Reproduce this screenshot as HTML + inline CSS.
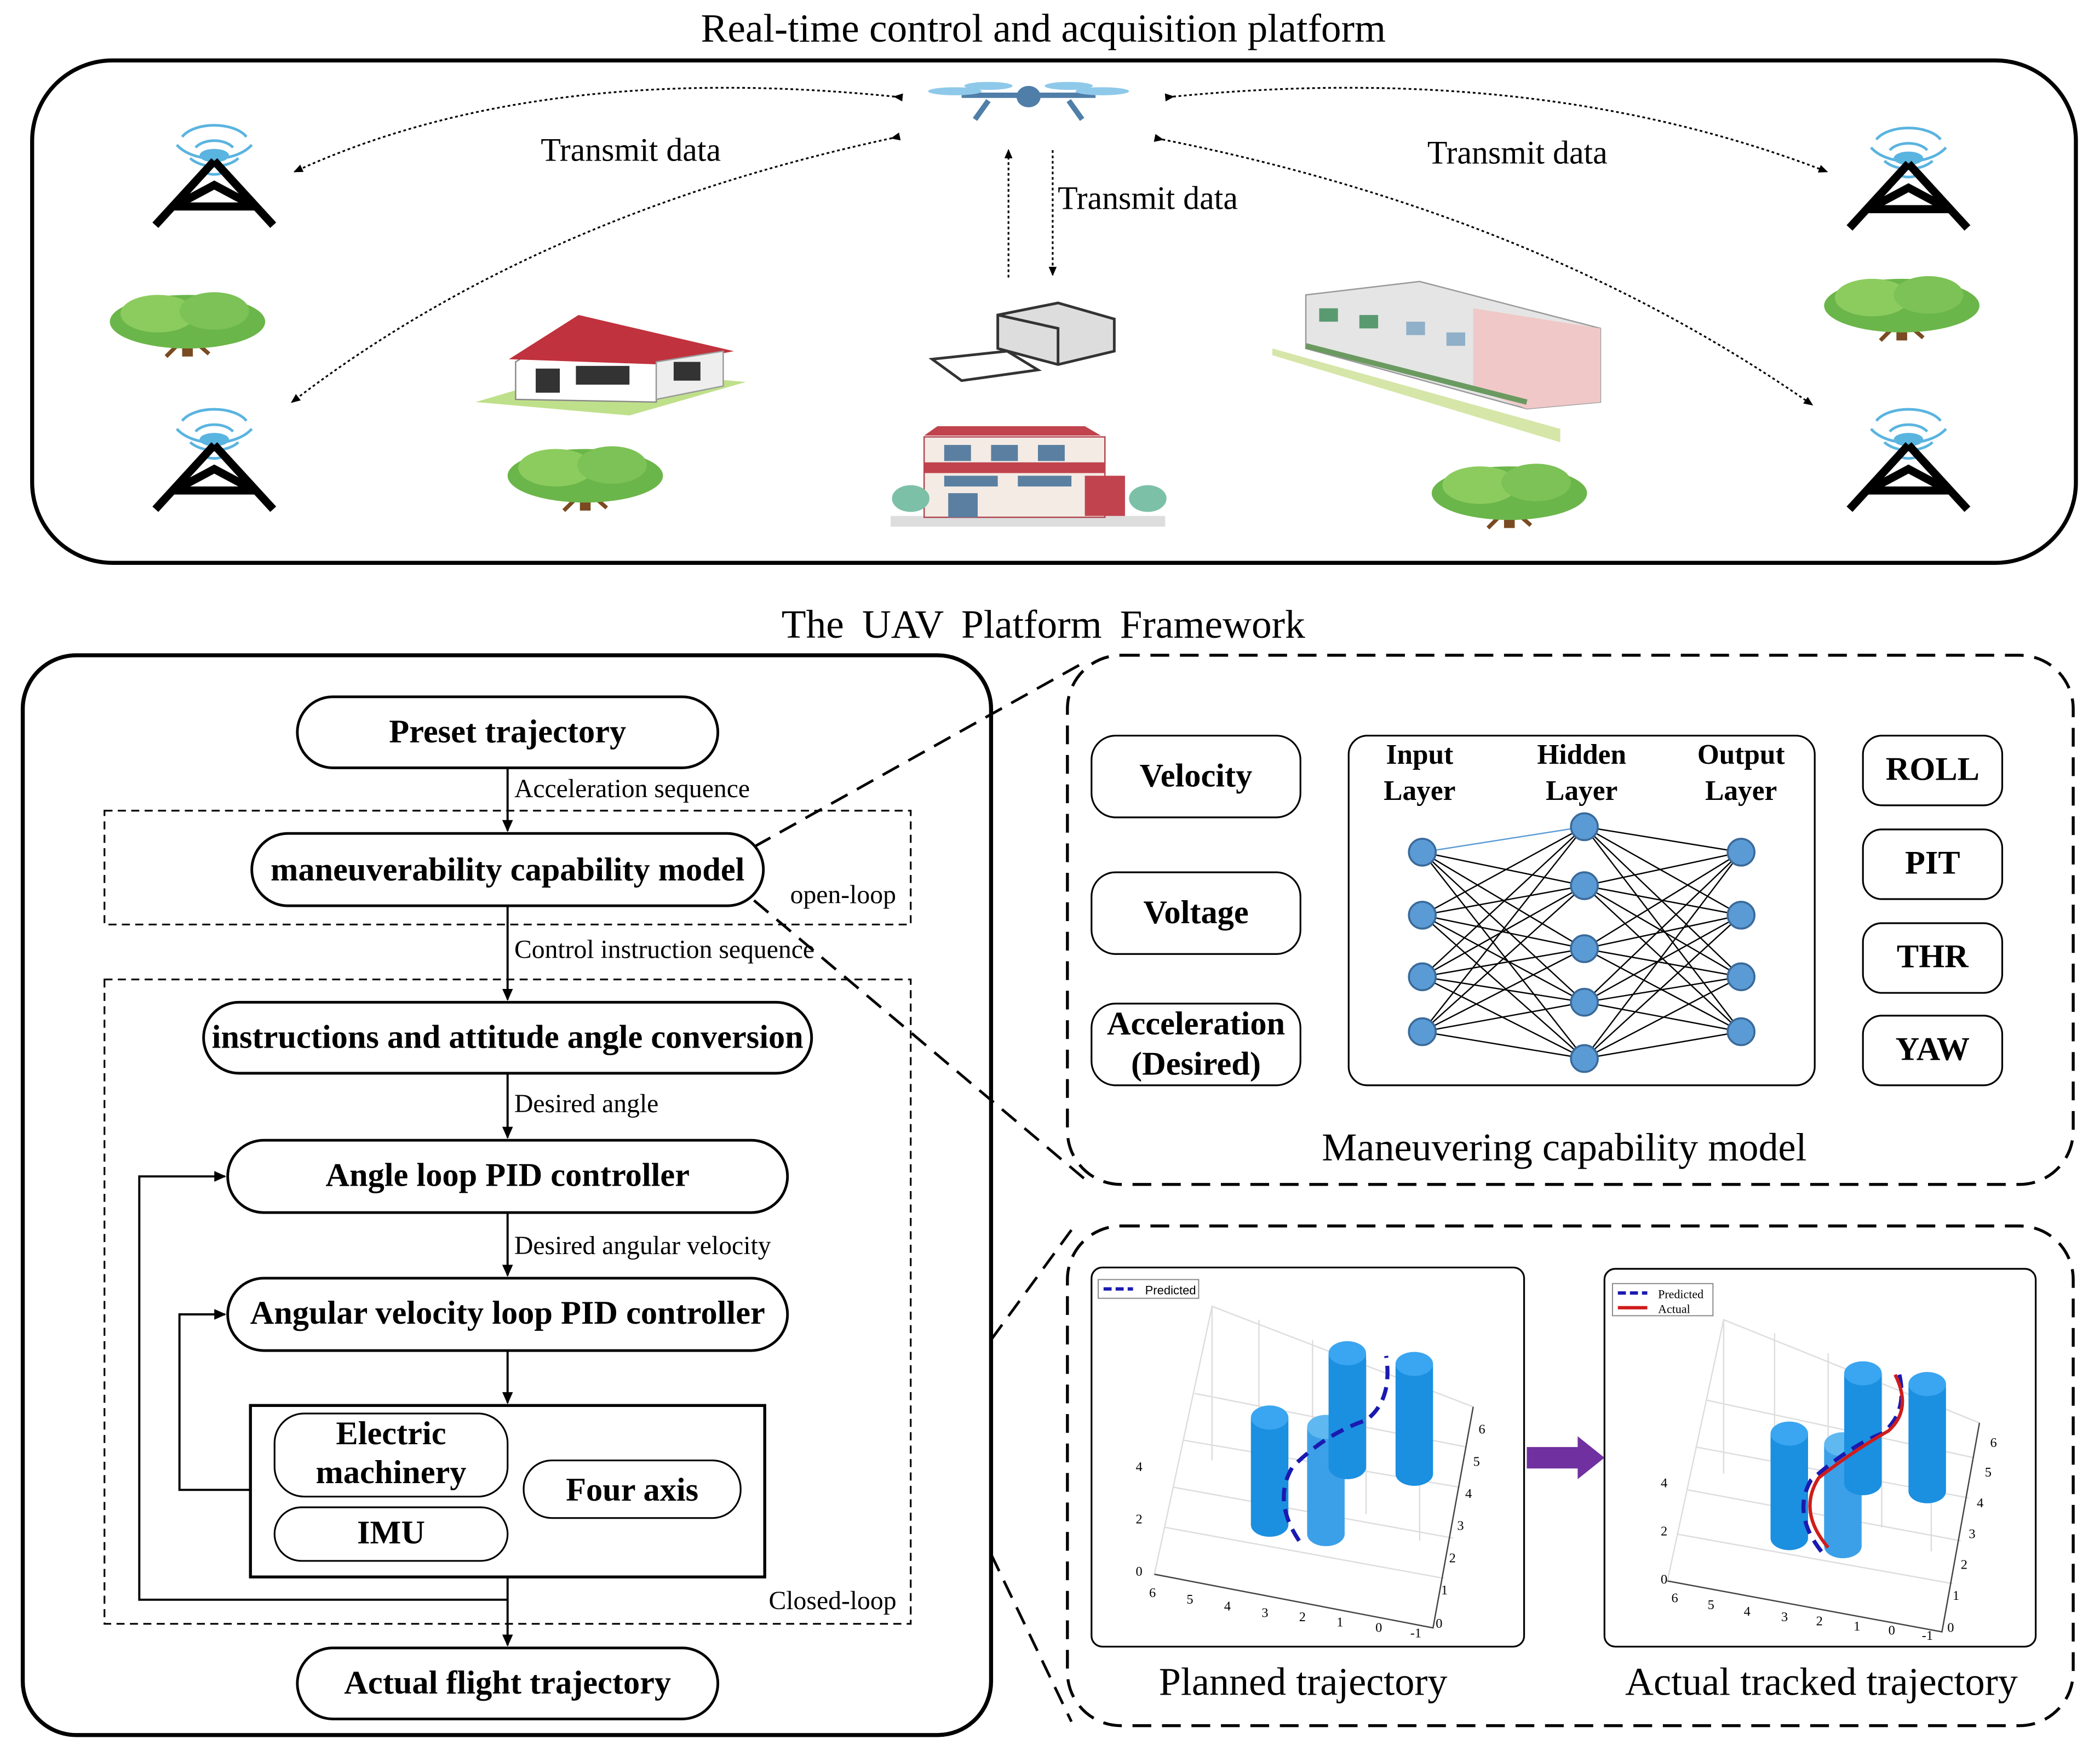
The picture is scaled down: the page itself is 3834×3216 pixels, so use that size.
<!DOCTYPE html>
<html><head><meta charset="utf-8">
<style>
html,body{margin:0;padding:0;background:#fff;}
svg{display:block;}
text{font-family:"Liberation Serif",serif;}
.b{font-weight:bold;font-size:24.7px;}
.l{font-size:19.5px;}
</style></head>
<body>
<svg width="3834" height="3216" viewBox="0 0 1568 1315" xmlns="http://www.w3.org/2000/svg">
<defs>
<marker id="a" markerWidth="10" markerHeight="10" refX="8" refY="5" orient="auto" markerUnits="userSpaceOnUse"><path d="M0,1 L9,5 L0,9 z" fill="#000"/></marker>
<marker id="s" markerWidth="8" markerHeight="8" refX="6" refY="4" orient="auto" markerUnits="userSpaceOnUse"><path d="M0,1 L7,4 L0,7 z" fill="#000"/></marker>
<g id="tower">
<path d="M-8,-12 A12,8 0 0 0 8,-12 M-18,-22 A22,14 0 0 0 18,-22 M-28,-32 A32,20 0 0 0 28,-32 M-14,-30 A16,10 0 0 1 14,-30 M-24,-38 A26,14 0 0 1 24,-38" fill="none" stroke="#5ab4e0" stroke-width="2"/>
<ellipse cx="0" cy="-24" rx="11" ry="5" fill="#5ab4e0"/>
<path d="M0,-20 L-44,28 M0,-20 L44,28 M-30,14 L30,14 M-30,14 L0,-2 L30,14" stroke="#000" stroke-width="6" fill="none"/>
</g>
<g id="tree">
<rect x="-4" y="0" width="8" height="26" fill="#7a4a22"/>
<path d="M0,10 L-16,26 M0,10 L16,24" stroke="#7a4a22" stroke-width="3"/>
<ellipse cx="0" cy="0" rx="58" ry="20" fill="#6bb64a"/>
<ellipse cx="-22" cy="-6" rx="28" ry="14" fill="#8ccc5e"/>
<ellipse cx="20" cy="-8" rx="26" ry="14" fill="#7cc256"/>
</g>
</defs>

<text x="779" y="31" font-size="30" text-anchor="middle">Real-time control and acquisition platform</text>
<rect x="24" y="45" width="1526" height="375" rx="60" fill="none" stroke="#000" stroke-width="3"/>

<g transform="translate(768,75)">
<ellipse cx="0" cy="-3" rx="9" ry="8" fill="#4f7fa8"/>
<path d="M-50,-4 L50,-4 M-30,0 L-40,14 M30,0 L40,14" stroke="#4f7fa8" stroke-width="4"/>
<ellipse cx="-55" cy="-7" rx="20" ry="3" fill="#8fc9ea"/><ellipse cx="55" cy="-7" rx="20" ry="3" fill="#8fc9ea"/>
<ellipse cx="-30" cy="-11" rx="18" ry="3" fill="#8fc9ea"/><ellipse cx="30" cy="-11" rx="18" ry="3" fill="#8fc9ea"/>
</g>
<use href="#tower" x="160" y="140"/><use href="#tower" x="160" y="352"/>
<use href="#tower" x="1425" y="142"/><use href="#tower" x="1425" y="352"/>
<use href="#tree" x="140" y="240"/><use href="#tree" x="437" y="355"/>
<use href="#tree" x="1127" y="368"/><use href="#tree" x="1420" y="228"/>

<g>
<path d="M355,300 L470,310 L557,285 L440,275 z" fill="#bfe08a"/>
<path d="M385,270 L385,298 L490,300 L490,265 L435,240 z" fill="#fff" stroke="#888"/>
<path d="M380,268 L432,235 L548,262 L495,272 z" fill="#c0323d"/>
<path d="M490,270 L540,262 L540,288 L490,298 z" fill="#eee" stroke="#999"/>
<rect x="400" y="275" width="18" height="18" fill="#333"/><rect x="430" y="273" width="40" height="14" fill="#333"/><rect x="503" y="270" width="20" height="14" fill="#333"/>
</g>
<g>
<path d="M745,235 L790,226 L832,238 L832,262 L790,272 L745,260 z" fill="#ddd" stroke="#333" stroke-width="2"/>
<path d="M745,235 L790,245 L790,272" fill="none" stroke="#333" stroke-width="2"/>
<path d="M696,268 L752,262 L775,276 L718,284 z" fill="#fff" stroke="#333" stroke-width="2"/>
</g>
<g>
<rect x="665" y="385" width="205" height="8" fill="#ddd"/>
<path d="M690,325 L700,318 L810,318 L822,325 z" fill="#c0434d"/>
<rect x="690" y="326" width="135" height="60" fill="#f4ebe5" stroke="#b04550"/>
<rect x="690" y="345" width="135" height="8" fill="#c0434d"/>
<rect x="705" y="332" width="20" height="12" fill="#5a7fa0"/><rect x="740" y="332" width="20" height="12" fill="#5a7fa0"/><rect x="775" y="332" width="20" height="12" fill="#5a7fa0"/>
<rect x="705" y="355" width="40" height="8" fill="#5a7fa0"/><rect x="760" y="355" width="40" height="8" fill="#5a7fa0"/>
<rect x="708" y="368" width="22" height="18" fill="#5a7fa0"/>
<rect x="810" y="355" width="30" height="30" fill="#c0434d"/>
<ellipse cx="680" cy="372" rx="14" ry="10" fill="#7cc0a8"/><ellipse cx="857" cy="372" rx="14" ry="10" fill="#7cc0a8"/>
</g>
<g>
<path d="M950,265 L1165,330 L1165,320 L950,260 z" fill="#d5e6a8"/>
<path d="M975,220 L1060,210 L1195,245 L1195,300 L1140,305 L975,260 z" fill="#e5e5e5" stroke="#999"/>
<path d="M1100,230 L1195,245 L1195,300 L1140,305 L1100,290 z" fill="#f0c8c8"/>
<rect x="985" y="230" width="14" height="10" fill="#5a9a70"/><rect x="1015" y="235" width="14" height="10" fill="#5a9a70"/><rect x="1050" y="240" width="14" height="10" fill="#8fb0c8"/><rect x="1080" y="248" width="14" height="10" fill="#8fb0c8"/>
<path d="M975,258 L1140,300" stroke="#6a9a60" stroke-width="4"/>
</g>

<g fill="none" stroke="#000" stroke-width="1.3" stroke-dasharray="2,2">
<path d="M668,72 Q400,45 220,128" marker-end="url(#s)" marker-start="url(#s)"/>
<path d="M666,103 Q400,160 218,300" marker-end="url(#s)" marker-start="url(#s)"/>
<path d="M876,72 Q1150,45 1364,128" marker-end="url(#s)" marker-start="url(#s)"/>
<path d="M868,104 Q1150,160 1353,302" marker-end="url(#s)" marker-start="url(#s)"/>
<path d="M753,207 L753,112" marker-end="url(#s)"/>
<path d="M786,112 L786,205" marker-end="url(#s)"/>
</g>
<text x="471" y="120" font-size="24.5" text-anchor="middle">Transmit data</text>
<text x="1133" y="122" font-size="24.5" text-anchor="middle">Transmit data</text>
<text x="857" y="156" font-size="24.5" text-anchor="middle">Transmit data</text>

<text x="779" y="476" font-size="30" text-anchor="middle" word-spacing="6">The UAV Platform Framework</text>

<rect x="17" y="489" width="723" height="806" rx="40" fill="none" stroke="#000" stroke-width="3"/>
<rect x="78" y="605" width="602" height="85" fill="none" stroke="#000" stroke-width="1.3" stroke-dasharray="6,4"/>
<rect x="78" y="731" width="602" height="481" fill="none" stroke="#000" stroke-width="1.3" stroke-dasharray="6,4"/>
<g fill="#fff" stroke="#000" stroke-width="2">
<rect x="222" y="520" width="314" height="53" rx="26.5"/>
<rect x="188" y="622" width="382" height="54" rx="27"/>
<rect x="152" y="748" width="454" height="53" rx="26.5"/>
<rect x="170" y="851" width="418" height="54" rx="27"/>
<rect x="170" y="954" width="418" height="54" rx="27"/>
<rect x="222" y="1230" width="314" height="53" rx="26.5"/>
<rect x="187" y="1049" width="384" height="128" stroke-width="2.2"/>
<rect x="205" y="1055" width="174" height="62" rx="22" stroke-width="1.3"/>
<rect x="205" y="1125" width="174" height="40" rx="20" stroke-width="1.3"/>
<rect x="391" y="1090" width="162" height="43" rx="21" stroke-width="1.3"/>
</g>
<g text-anchor="middle">
<text x="379" y="554" class="b">Preset trajectory</text>
<text x="379" y="657" class="b">maneuverability capability model</text>
<text x="379" y="782" class="b">instructions and attitude angle conversion</text>
<text x="379" y="885" class="b">Angle loop PID controller</text>
<text x="379" y="988" class="b">Angular velocity loop PID controller</text>
<text x="379" y="1264" class="b">Actual flight trajectory</text>
<text x="292" y="1078" class="b">Electric</text>
<text x="292" y="1107" class="b">machinery</text>
<text x="292" y="1152" class="b">IMU</text>
<text x="472" y="1120" class="b">Four axis</text>
</g>
<g stroke="#000" stroke-width="1.6" fill="none">
<path d="M379,573 L379,620" marker-end="url(#a)"/>
<path d="M379,676 L379,746" marker-end="url(#a)"/>
<path d="M379,801 L379,849" marker-end="url(#a)"/>
<path d="M379,905 L379,952" marker-end="url(#a)"/>
<path d="M379,1008 L379,1047" marker-end="url(#a)"/>
<path d="M379,1177 L379,1228" marker-end="url(#a)"/>
<path d="M187,1112 L134,1112 L134,981 L168,981" marker-end="url(#a)"/>
<path d="M379,1194 L104,1194 L104,878 L168,878" marker-end="url(#a)"/>
</g>
<g class="l">
<text x="384" y="595" class="l">Acceleration sequence</text>
<text x="384" y="715" class="l">Control instruction sequence</text>
<text x="384" y="830" class="l">Desired angle</text>
<text x="384" y="936" class="l">Desired angular velocity</text>
<text x="590" y="674" class="l">open-loop</text>
<text x="574" y="1201" class="l">Closed-loop</text>
</g>

<g stroke="#000" stroke-width="2" stroke-dasharray="14,8" fill="none">
<path d="M563,632 L810,494"/>
<path d="M563,672 L810,880"/>
<path d="M740,1000 L800,918"/>
<path d="M740,1160 L800,1285"/>
</g>

<rect x="797" y="489" width="751" height="395" rx="40" fill="none" stroke="#000" stroke-width="2.2" stroke-dasharray="14,8"/>
<g fill="#fff" stroke="#000" stroke-width="1.3">
<rect x="815" y="549" width="156" height="61" rx="18"/>
<rect x="815" y="651" width="156" height="61" rx="18"/>
<rect x="815" y="749" width="156" height="61" rx="18"/>
<rect x="1007" y="549" width="348" height="261" rx="14"/>
<rect x="1391" y="549" width="104" height="52" rx="14"/>
<rect x="1391" y="619" width="104" height="52" rx="14"/>
<rect x="1391" y="689" width="104" height="52" rx="14"/>
<rect x="1391" y="758" width="104" height="52" rx="14"/>
</g>
<g text-anchor="middle">
<text x="893" y="587" class="b">Velocity</text>
<text x="893" y="689" class="b">Voltage</text>
<text x="893" y="772" class="b">Acceleration</text>
<text x="893" y="802" class="b">(Desired)</text>
<text x="1443" y="582" class="b">ROLL</text>
<text x="1443" y="652" class="b">PIT</text>
<text x="1443" y="722" class="b">THR</text>
<text x="1443" y="791" class="b">YAW</text>
<text x="1060" y="570" font-size="21" font-weight="bold">Input</text>
<text x="1060" y="597" font-size="21" font-weight="bold">Layer</text>
<text x="1181" y="570" font-size="21" font-weight="bold">Hidden</text>
<text x="1181" y="597" font-size="21" font-weight="bold">Layer</text>
<text x="1300" y="570" font-size="21" font-weight="bold">Output</text>
<text x="1300" y="597" font-size="21" font-weight="bold">Layer</text>
</g>
<g stroke="#000" stroke-width="1">
<path d="M1062,683L1183,617M1062,729L1183,617M1062,770L1183,617
M1062,636L1183,661M1062,683L1183,661M1062,729L1183,661M1062,770L1183,661
M1062,636L1183,708M1062,683L1183,708M1062,729L1183,708M1062,770L1183,708
M1062,636L1183,748M1062,683L1183,748M1062,729L1183,748M1062,770L1183,748
M1062,636L1183,790M1062,683L1183,790M1062,729L1183,790M1062,770L1183,790
M1183,617L1300,636M1183,617L1300,683M1183,617L1300,729M1183,617L1300,770
M1183,661L1300,636M1183,661L1300,683M1183,661L1300,729M1183,661L1300,770
M1183,708L1300,636M1183,708L1300,683M1183,708L1300,729M1183,708L1300,770
M1183,748L1300,636M1183,748L1300,683M1183,748L1300,729M1183,748L1300,770
M1183,790L1300,636M1183,790L1300,683M1183,790L1300,729M1183,790L1300,770"/>
<path d="M1062,636L1183,617" stroke="#5b9bd5"/>
</g>
<g fill="#5b9bd5" stroke="#3a6a9a" stroke-width="1.5">
<circle cx="1062" cy="636" r="10"/><circle cx="1062" cy="683" r="10"/><circle cx="1062" cy="729" r="10"/><circle cx="1062" cy="770" r="10"/>
<circle cx="1183" cy="617" r="10"/><circle cx="1183" cy="661" r="10"/><circle cx="1183" cy="708" r="10"/><circle cx="1183" cy="748" r="10"/><circle cx="1183" cy="790" r="10"/>
<circle cx="1300" cy="636" r="10"/><circle cx="1300" cy="683" r="10"/><circle cx="1300" cy="729" r="10"/><circle cx="1300" cy="770" r="10"/>
</g>
<text x="1168" y="866" font-size="29.5" text-anchor="middle">Maneuvering capability model</text>

<rect x="797" y="915" width="751" height="373" rx="40" fill="none" stroke="#000" stroke-width="2.2" stroke-dasharray="14,8"/>
<rect x="815" y="946" width="323" height="283" rx="8" fill="#fff" stroke="#000" stroke-width="1.3"/>
<rect x="1198" y="947" width="322" height="282" rx="8" fill="#fff" stroke="#000" stroke-width="1.3"/>
<path d="M1140,1080 L1178,1080 L1178,1072 L1198,1088 L1178,1104 L1178,1096 L1140,1096 z" fill="#7030a0"/>

<g>
<g stroke="#ddd" stroke-width="1" fill="none">
<path d="M862,1175 L905,975 L1100,1050 L1070,1215 z"/>
<path d="M862,1175 L1070,1215"/>
<path d="M870,1140 L1078,1178 M876,1110 L1085,1148 M884,1075 L1090,1110 M892,1040 L1095,1080"/>
<path d="M905,975 L905,1090 M940,985 L940,1100 M980,1000 L980,1115 M1020,1015 L1020,1130 M1060,1035 L1060,1150"/>
</g>
<path d="M862,1175 L1070,1215 L1100,1050" stroke="#444" fill="none"/>
<g fill="#1b8fe0">
<rect x="934" y="1058" width="28" height="80"/><ellipse cx="948" cy="1058" rx="14" ry="9" fill="#3aa5f0"/><ellipse cx="948" cy="1138" rx="14" ry="9"/>
<rect x="976" y="1065" width="28" height="80" fill="#3ba0e8"/><ellipse cx="990" cy="1065" rx="14" ry="9" fill="#60b8f0"/><ellipse cx="990" cy="1145" rx="14" ry="9" fill="#3ba0e8"/>
<rect x="992" y="1010" width="28" height="85"/><ellipse cx="1006" cy="1010" rx="14" ry="9" fill="#3aa5f0"/><ellipse cx="1006" cy="1095" rx="14" ry="9"/>
<rect x="1042" y="1018" width="28" height="82"/><ellipse cx="1056" cy="1018" rx="14" ry="9" fill="#3aa5f0"/><ellipse cx="1056" cy="1100" rx="14" ry="9"/>
</g>
<path d="M970,1150 Q950,1120 965,1095 Q990,1070 1020,1060 Q1040,1045 1035,1012" fill="none" stroke="#1a1ab0" stroke-width="3" stroke-dasharray="10,6"/>
<rect x="820" y="955" width="75" height="14" fill="#fff" stroke="#888" stroke-width="0.8"/>
<path d="M824,962 L846,962" stroke="#1a1ab0" stroke-width="2.5" stroke-dasharray="6,3"/>
<text x="855" y="966" font-size="9" style="font-family:'Liberation Sans',sans-serif">Predicted</text>
<g font-size="10" style="font-family:'Liberation Sans',sans-serif">
<text x="848" y="1098">4</text><text x="848" y="1137">2</text><text x="848" y="1176">0</text>
<text x="858" y="1192">6</text><text x="886" y="1197">5</text><text x="914" y="1202">4</text><text x="942" y="1207">3</text><text x="970" y="1210">2</text><text x="998" y="1214">1</text><text x="1027" y="1218">0</text><text x="1053" y="1222">-1</text>
<text x="1072" y="1215">0</text><text x="1076" y="1190">1</text><text x="1082" y="1166">2</text><text x="1088" y="1142">3</text><text x="1094" y="1118">4</text><text x="1100" y="1094">5</text><text x="1104" y="1070">6</text>
</g>
</g>
<g>
<g stroke="#ddd" stroke-width="1" fill="none">
<path d="M1245,1180 L1287,985 L1478,1062 L1450,1218 z"/>
<path d="M1252,1145 L1458,1182 M1260,1112 L1464,1150 M1266,1080 L1470,1118 M1274,1045 L1474,1088"/>
<path d="M1287,985 L1287,1100 M1325,995 L1325,1110 M1365,1010 L1365,1125 M1405,1025 L1405,1140 M1442,1045 L1442,1158"/>
</g>
<path d="M1245,1180 L1450,1218 L1478,1062" stroke="#444" fill="none"/>
<g fill="#1b8fe0">
<rect x="1322" y="1070" width="28" height="78"/><ellipse cx="1336" cy="1070" rx="14" ry="9" fill="#3aa5f0"/><ellipse cx="1336" cy="1148" rx="14" ry="9"/>
<rect x="1362" y="1078" width="28" height="76" fill="#3ba0e8"/><ellipse cx="1376" cy="1078" rx="14" ry="9" fill="#60b8f0"/><ellipse cx="1376" cy="1154" rx="14" ry="9" fill="#3ba0e8"/>
<rect x="1377" y="1025" width="28" height="82"/><ellipse cx="1391" cy="1025" rx="14" ry="9" fill="#3aa5f0"/><ellipse cx="1391" cy="1107" rx="14" ry="9"/>
<rect x="1425" y="1033" width="28" height="80"/><ellipse cx="1439" cy="1033" rx="14" ry="9" fill="#3aa5f0"/><ellipse cx="1439" cy="1113" rx="14" ry="9"/>
</g>
<path d="M1360,1158 Q1338,1130 1352,1105 Q1380,1080 1405,1070 Q1425,1055 1418,1025" fill="none" stroke="#1a1ab0" stroke-width="3" stroke-dasharray="10,6"/>
<path d="M1365,1155 Q1342,1128 1358,1103 Q1385,1082 1410,1068 Q1428,1052 1415,1026" fill="none" stroke="#d01c1c" stroke-width="2.5"/>
<rect x="1204" y="958" width="75" height="24" fill="#fff" stroke="#888" stroke-width="0.8"/>
<path d="M1208,965 L1230,965" stroke="#1a1ab0" stroke-width="2.5" stroke-dasharray="6,3"/>
<path d="M1208,976 L1230,976" stroke="#d01c1c" stroke-width="2.5"/>
<g font-size="9" style="font-family:'Liberation Sans',sans-serif"><text x="1238" y="969">Predicted</text><text x="1238" y="980">Actual</text></g>
<g font-size="10" style="font-family:'Liberation Sans',sans-serif">
<text x="1240" y="1110">4</text><text x="1240" y="1146">2</text><text x="1240" y="1182">0</text>
<text x="1248" y="1196">6</text><text x="1275" y="1201">5</text><text x="1302" y="1206">4</text><text x="1330" y="1210">3</text><text x="1356" y="1213">2</text><text x="1384" y="1217">1</text><text x="1410" y="1220">0</text><text x="1435" y="1224">-1</text>
<text x="1454" y="1218">0</text><text x="1458" y="1194">1</text><text x="1464" y="1171">2</text><text x="1470" y="1148">3</text><text x="1476" y="1125">4</text><text x="1482" y="1102">5</text><text x="1486" y="1080">6</text>
</g>
</g>
<text x="973" y="1265" font-size="29.5" text-anchor="middle">Planned trajectory</text>
<text x="1360" y="1265" font-size="29.5" text-anchor="middle">Actual tracked trajectory</text>
</svg>
</body></html>
